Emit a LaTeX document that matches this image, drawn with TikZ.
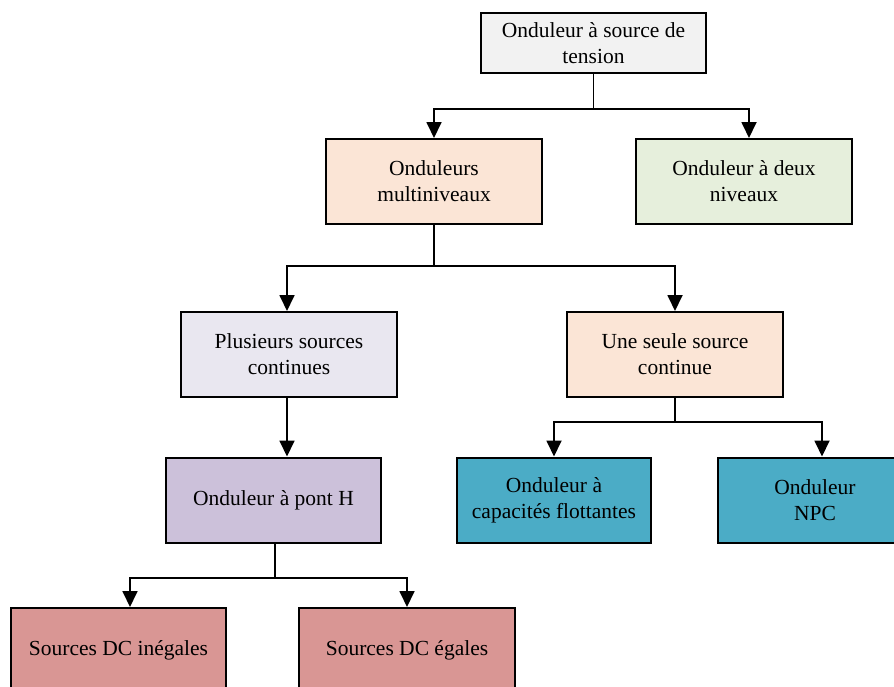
\documentclass[tikz,border=0pt]{standalone}
\usepackage{fontspec}
\setmainfont{Liberation Serif}
\usetikzlibrary{arrows.meta,positioning,shapes}
\definecolor{gris}{HTML}{F2F2F2}
\definecolor{peche}{HTML}{FBE5D6}
\definecolor{vert}{HTML}{E6EFDC}
\definecolor{lavande}{HTML}{E9E7F0}
\definecolor{mauve}{HTML}{CCC1DA}
\definecolor{bleu}{HTML}{4BACC6}
\definecolor{rose}{HTML}{D99694}

\begin{document}
\begin{tikzpicture}[x=1pt, y=-1pt, >={Triangle[width=15pt,length=16pt]}, line width=1.8pt, box/.style={draw, line width=2pt, minimum width=216pt, minimum height=85pt, inner sep=0pt, align=center, font=\rmfamily\fontsize{21.5}{26}\selectfont}, narrow/.style={box, minimum width=194pt}]
	\useasboundingbox (0,0) rectangle (894,686);
	\clip (0,0) rectangle (894,686);
	\draw (593.5, 43.0)node[box, fill=gris, minimum width=225pt, minimum height=60pt](src){Onduleur à source de\\tension};
	\draw (434.0, 181.5)node[box, fill=peche](multi){Onduleurs\\multiniveaux};
	\draw (744.0, 181.5)node[box, fill=vert](deux){Onduleur à deux\\niveaux};
	\draw (289.0, 354.5)node[box, fill=lavande](plus){Plusieurs sources\\continues};
	\draw (675.0, 354.5)node[box, fill=peche](une){Une seule source\\continue};
	\draw (273.5, 500.0)node[box, fill=mauve, minimum width=215pt](pont){Onduleur à pont H};
	\draw (554.0, 500.0)node[narrow, fill=bleu](capa){Onduleur à\\capacités flottantes};
	\draw (815.0, 500.0)node[narrow, fill=bleu](npc){Onduleur\\NPC};
	\draw (118.5, 650.5)node[box, fill=rose, minimum width=215pt](ineg){Sources DC inégales};
	\draw (407.0, 650.5)node[box, fill=rose](egal){Sources DC égales};
	\coordinate (j1) at (593.5, 109);
	\coordinate (j2) at (434.0, 266);
	\coordinate (j3) at (675.0, 422);
	\coordinate (j4) at (275.0, 578);
	\draw (src) -- (j1);
	\draw[->] (j1) -| (multi.north);
	\draw[->] (j1) -| ([xshift=5pt]deux.north);
	\draw (multi) -- (j2);
	\draw[->] (j2) -| ([xshift=-2pt]plus.north);
	\draw[->] (j2) -| (une.north);
	\draw[->] ([xshift=-2pt]plus.south) -- ([xshift=-2pt]plus.south |- pont.north);
	\draw (une) -- (j3);
	\draw[->] (j3) -| (capa.north);
	\draw[->] (j3) -| ([xshift=7pt]npc.north);
	\draw ([xshift=1.5pt]pont.south) -- (j4);
	\draw[->] (j4) -| ([xshift=11.5pt]ineg.north);
	\draw[->] (j4) -| (egal.north);
\end{tikzpicture}
\end{document}
